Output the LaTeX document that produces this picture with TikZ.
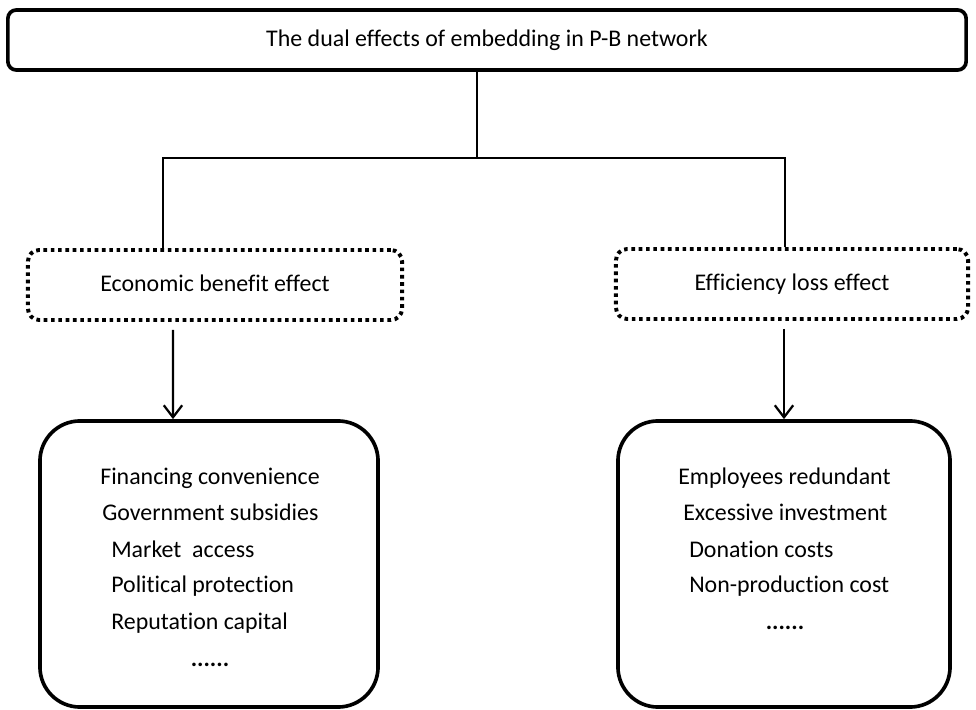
\documentclass[tikz,border=0pt]{standalone}
\usepackage{fontspec}
\setmainfont{Carlito}[Ligatures=NoCommon]
\usetikzlibrary{%
  arrows.meta,%
  positioning%
}
\tikzset{>={Straight Barb[length=3mm,width=4.6mm]}}

\begin{document}
\begin{tikzpicture}[x=0.025cm,y=-0.025cm,
    every node/.style={font=\fontsize{17}{20}\selectfont},
    titlebox/.style={draw,line width=2.6pt,rounded corners=6pt,
      minimum width=23.95cm,minimum height=1.5cm},
    effectbox/.style={draw,line width=2.8pt,dash pattern=on 2.6pt off 2.6pt,
      rounded corners=8pt,minimum height=1.75cm,text height=2.5ex,text depth=.5ex},
    listbox/.style={draw,line width=2.6pt,rounded corners=1cm,minimum height=7.15cm},
    item/.style={anchor=base west,inner sep=0pt},
    conn/.style={line width=1.6pt}]
    \useasboundingbox (0,0) rectangle (976,710);
    % boxes
    \node[titlebox] (dual) at (487,40) {The dual effects of embedding in P-B network};
    \node[effectbox,minimum width=9.35cm] (benefit) at (215,285) {Economic benefit effect};
    \node[effectbox,minimum width=8.8cm] (loss) at (792,284) {Efficiency loss effect};
    \node[listbox,minimum width=8.45cm] (gains) at (209,564) {};
    \node[listbox,minimum width=8.3cm] (costs) at (784,564) {};
    % left list
    \node[item] (g1) at (100,484) {Financing convenience};
    \node[item] (g2) at (102,520) {Government subsidies};
    \node[item] (g3) at (111,557) {Market\ \ access};
    \node[item] (g4) at (111,592) {Political protection};
    \node[item] (g5) at (111,629) {Reputation capital};
    \node[anchor=base,inner sep=0pt] (g6) at (210,666) {\textbf{......}};
    % right list
    \node[item] (c1) at (678,484) {Employees redundant};
    \node[item] (c2) at (683,520) {Excessive investment};
    \node[item] (c3) at (689,557) {Donation costs};
    \node[item] (c4) at (689,592) {Non-production cost};
    \node[anchor=base,inner sep=0pt] (c5) at (785,629) {\textbf{......}};
    % connectors
    \coordinate (jn) at (477,158);
    \coordinate (hl) at (163,158);
    \coordinate (hr) at (785,158);
    \draw[conn] (jn |- dual.south) -- (jn);
    \draw[conn] (hl |- benefit.north) -- (hl) -- (hr) -- (hr |- loss.north);
    \draw[conn,->] ([xshift=-1.05cm,yshift=-0.2cm]benefit.south)
      -- ([xshift=-0.9cm]gains.north);
    \draw[conn,->] ([yshift=-0.2cm]costs.north |- loss.south) -- (costs.north);
\end{tikzpicture}
\end{document}
